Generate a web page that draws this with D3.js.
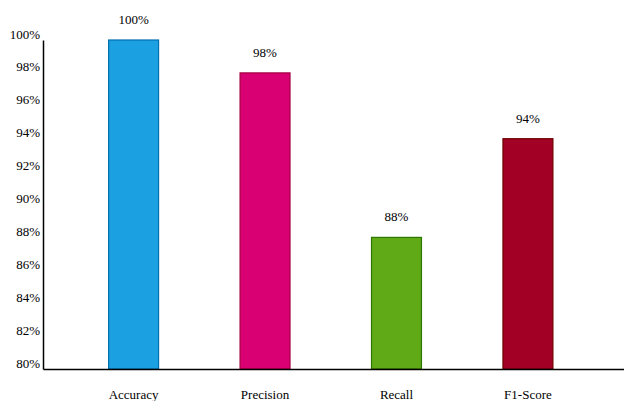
<!DOCTYPE html>
<html>
<head>
<meta charset="utf-8">
<script src="https://cdn.jsdelivr.net/npm/d3@7"></script>
<style>
  body { margin: 0; background: #fff; }
</style>
</head>
<body>
<script>
// chart data
const metrics = ['Accuracy', 'Precision', 'Recall', 'F1-Score'];
const scores = [100, 98, 88, 94];
const yTicks = [80, 82, 84, 86, 88, 90, 92, 94, 96, 98, 100];
const fills = ['#1ba1e2', '#d80073', '#60a917', '#a20025'];
const strokes = ['#006eaf', '#a50040', '#2d7600', '#6f0000'];

const fontFamily = '"Liberation Serif", "Times New Roman", Times, "DejaVu Serif", serif';

const render = () => {
  const width = 624;
  const height = 401;
  const margin = { top: 40, right: 0, bottom: 32, left: 43 };
  const innerHeight = height - margin.top - margin.bottom;

  const dataset = metrics.map((m, i) => ({ name: m, value: scores[i], fill: fills[i], stroke: strokes[i] }));

  const svg = d3.select('body').append('svg')
    .attr('width', width)
    .attr('height', height)
    .style('font-family', fontFamily);

  // scales
  const xScale = d3.scaleBand()
    .domain(metrics)
    .range([margin.left, width - margin.right])
    .paddingInner(0.62)
    .paddingOuter(0.52)
    .align(0.48);

  const yScale = d3.scaleLinear()
    .domain([80, 100])
    .range([margin.top + innerHeight, margin.top]);

  // bars
  svg.selectAll('rect.bar').data(dataset)
    .enter().append('rect')
    .attr('class', 'bar')
    .attr('x', d => xScale(d.name))
    .attr('y', d => yScale(d.value))
    .attr('width', xScale.bandwidth())
    .attr('height', d => yScale(80) - yScale(d.value))
    .attr('fill', d => d.fill)
    .attr('stroke', d => d.stroke)
    .attr('stroke-width', 1.2);

  // value labels
  svg.selectAll('text.value').data(dataset)
    .enter().append('text')
    .attr('class', 'value')
    .attr('x', d => xScale(d.name) + xScale.bandwidth() / 2)
    .attr('y', d => yScale(d.value) - 16)
    .attr('text-anchor', 'middle')
    .attr('font-family', fontFamily)
    .attr('font-size', 13)
    .attr('fill', '#000')
    .text(d => `${d.value}%`);

  // y axis
  const yAxis = d3.axisLeft(yScale)
    .tickValues(yTicks)
    .tickSize(0)
    .tickPadding(3)
    .tickFormat(d => `${d}%`);

  const yAxisG = svg.append('g')
    .attr('transform', `translate(${margin.left}, 0)`)
    .call(yAxis)
    .attr('font-family', fontFamily)
    .attr('font-size', 13);
  yAxisG.select('.domain').attr('stroke', '#000').attr('stroke-width', 1.5);
  yAxisG.selectAll('text').attr('dy', '-0.15em');

  // x axis
  const xAxis = d3.axisBottom(xScale)
    .tickSize(0)
    .tickPadding(21);

  const xAxisG = svg.append('g')
    .attr('transform', `translate(0, ${yScale(80)})`)
    .call(xAxis)
    .attr('font-family', fontFamily)
    .attr('font-size', 13);
  xAxisG.select('.domain').attr('stroke', '#000').attr('stroke-width', 1.5);
};

render();
</script>
</body>
</html>
